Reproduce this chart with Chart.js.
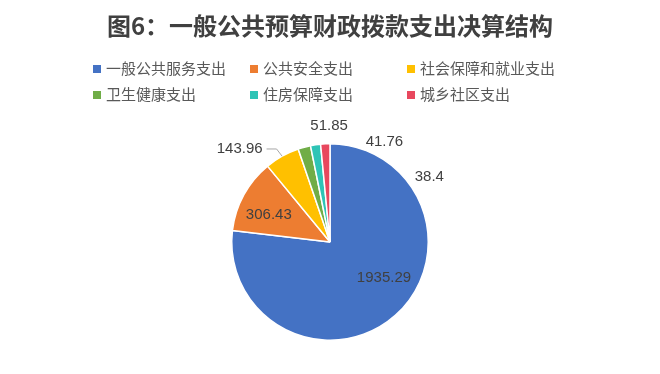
<!DOCTYPE html>
<html>
<head>
<meta charset="utf-8">
<script src="https://cdn.jsdelivr.net/npm/chart.js@4"></script>
<style>
  html, body { margin: 0; padding: 0; background: #fff; }
  #wrap { position: relative; width: 660px; height: 374px; }
  #title {
    position: absolute; left: 0; top: 9px; width: 660px; text-align: center;
    font: bold 24px "Noto Sans CJK SC", sans-serif; color: #404040; line-height: 32px;
  }
  #legend { position: absolute; left: 93px; top: 58px; }
  .item {
    position: absolute; white-space: nowrap;
    font: 15px "Noto Sans CJK SC", sans-serif; color: #595959; line-height: 20px;
  }
  .item i { display: inline-block; width: 8px; height: 8px; margin-right: 5px; vertical-align: 1px; }
</style>
</head>
<body>
<div id="wrap">
  <div id="title">图6：一般公共预算财政拨款支出决算结构</div>
  <div id="legend"></div>
  <canvas id="pie" width="660" height="374"></canvas>
</div>
<script>
// 数据
const categorias = ['一般公共服务支出', '公共安全支出', '社会保障和就业支出', '卫生健康支出', '住房保障支出', '城乡社区支出'];
const valores = [1935.29, 306.43, 143.96, 51.85, 41.76, 38.4];
const colores = ['#4472C4', '#ED7D31', '#FFC000', '#70AD47', '#2EC4B6', '#E8485E'];

// 标签位置微调 (半径倍数, 角度偏移 度)
const labelStyle = [
  { r: 0.66, shift: -14.7 },
  { r: 0.68, shift: -5 },
  { r: 1.32, shift: -15, leader: true },
  { r: 1.18, shift: 14.7 },
  { r: 1.16, shift: 37 },
  { r: 1.21, shift: 59.4 }
];

// 图例
var legend = document.getElementById('legend');
categorias.forEach(function(c, i) {
  var d = document.createElement('div');
  d.className = 'item';
  d.style.left = (i % 3) * 157 + 'px';
  d.style.top = Math.floor(i / 3) * 26 + 'px';
  d.innerHTML = '<i style="background:' + colores[i] + '"></i>' + c;
  legend.appendChild(d);
});

const sliceLabels = {
  id: 'sliceLabels',
  afterDatasetsDraw(chart) {
    const ctx = chart.ctx;
    const arcs = chart.getDatasetMeta(0).data;
    ctx.save();
    ctx.font = '15px "Liberation Sans", sans-serif';
    ctx.fillStyle = '#404040';
    ctx.textAlign = 'center';
    ctx.textBaseline = 'middle';
    arcs.forEach(function(arc, i) {
      const p = arc.getProps(['x', 'y', 'startAngle', 'endAngle', 'outerRadius'], true);
      const mid = (p.startAngle + p.endAngle) / 2;
      const st = labelStyle[i];
      const a = mid + st.shift * Math.PI / 180;
      const lx = p.x + Math.cos(a) * p.outerRadius * st.r;
      const ly = p.y + Math.sin(a) * p.outerRadius * st.r;
      const txt = String(valores[i]);
      if (st.leader) {
        const w = ctx.measureText(txt).width;
        const ex = p.x + Math.cos(mid) * p.outerRadius;
        const ey = p.y + Math.sin(mid) * p.outerRadius;
        ctx.strokeStyle = '#A6A6A6';
        ctx.lineWidth = 1;
        ctx.beginPath();
        ctx.moveTo(lx + w / 2 + 4, ly);
        ctx.lineTo(lx + w / 2 + 14, ly);
        ctx.lineTo(ex, ey);
        ctx.stroke();
      }
      ctx.fillText(txt, lx, ly);
    });
    ctx.restore();
  }
};

new Chart(document.getElementById('pie'), {
  type: 'pie',
  data: {
    labels: categorias,
    datasets: [{
      data: valores,
      backgroundColor: colores,
      borderColor: '#fff',
      borderWidth: 1.5
    }]
  },
  options: {
    responsive: false,
    animation: false,
    layout: { padding: { top: 143, bottom: 33, left: 0, right: 0 } },
    plugins: {
      legend: { display: false },
      tooltip: { enabled: false }
    }
  },
  plugins: [sliceLabels]
});
</script>
</body>
</html>
